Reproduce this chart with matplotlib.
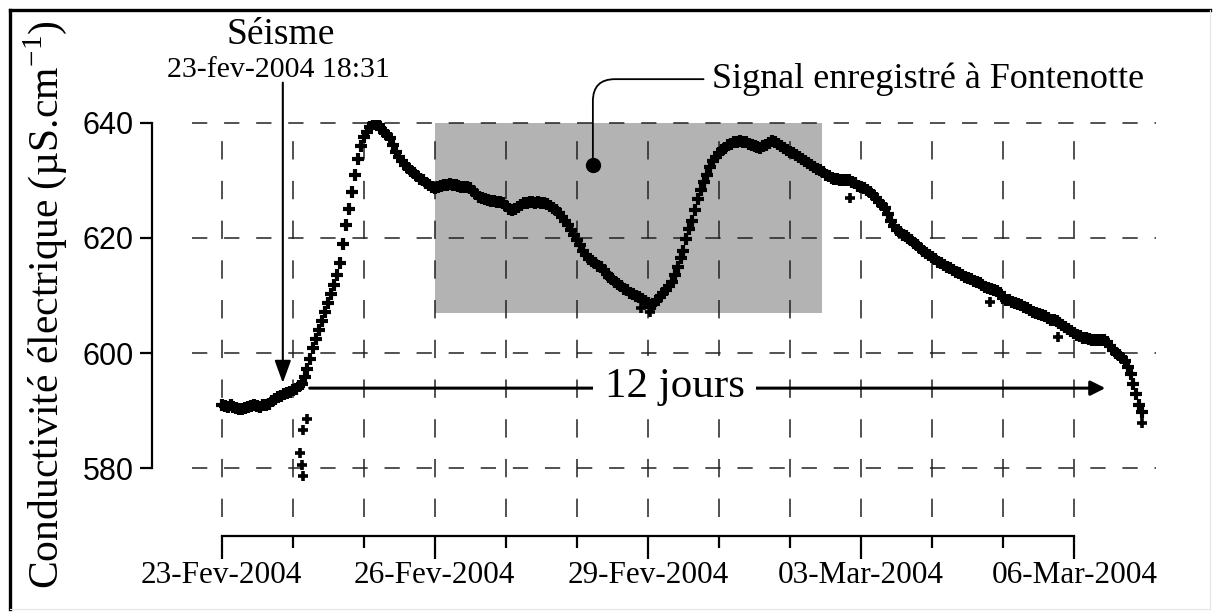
import pandas as pd
import matplotlib.pyplot as plt
import matplotlib.dates as mdates
from matplotlib.lines import Line2D
from matplotlib.patches import Rectangle

plt.rcParams['font.family'] = ['Liberation Serif', 'DejaVu Serif']
plt.rcParams['mathtext.fontset'] = 'custom'
plt.rcParams['mathtext.rm'] = 'Liberation Serif'

# -------------------------------------------------
# Données (une valeur par heure, à partir du 23-Fev-2004 00:00)
# -------------------------------------------------

start = '2004-02-23 00:00'

conductivity = [
    # 23-Fev
    590.9, 590.8, 590.7, 590.9, 590.6, 590.5, 590.3, 590.2, 590.5, 590.7, 590.8, 590.9,
    590.8, 590.7, 590.9, 591.0, 591.2, 591.6, 592.0, 592.3, 592.6, 592.9, 593.1, 593.3,
    # 24-Fev
    593.5, 593.8, 594.2, 594.6, 595.8, 597.3, 599.0, 600.8, 602.5, 604.0, 605.6, 607.2,
    608.7, 610.2, 611.8, 613.6, 615.6, 619.0, 622.3, 625.0, 628.0, 631.0, 633.8, 636.0,
    # 25-Fev
    637.5, 638.4, 639.2, 639.8, 640.0, 639.6, 639.0, 638.4, 637.9, 637.3, 636.2, 635.0,
    634.0, 633.3, 632.7, 632.1, 631.7, 631.3, 630.8, 630.3, 630.0, 629.6, 629.2, 628.9,
    # 26-Fev
    628.7, 628.9, 629.1, 629.2, 629.2, 629.3, 629.2, 629.2, 629.0, 628.9, 628.8, 628.9,
    628.7, 628.2, 627.6, 627.1, 627.0, 626.8, 626.6, 626.5, 626.4, 626.3, 626.2, 626.1,
    # 27-Fev
    625.5, 625.0, 624.9, 625.1, 625.4, 625.8, 626.0, 626.1, 626.2, 626.2, 626.1, 626.2,
    626.1, 626.0, 625.9, 625.6, 625.2, 624.9, 624.3, 623.7, 623.0, 622.3, 621.4, 620.5,
    # 28-Fev
    619.7, 618.8, 617.8, 617.0, 616.4, 616.0, 615.6, 615.2, 614.9, 614.4, 613.8, 613.2,
    612.8, 612.4, 612.0, 611.6, 611.2, 610.9, 610.5, 610.2, 609.9, 609.7, 609.4, 609.0,
    # 29-Fev
    608.7, 608.4, 608.6, 609.2, 609.8, 610.4, 611.0, 611.7, 612.4, 613.5, 615.0, 616.5,
    617.8, 619.8, 621.6, 623.0, 624.9, 626.7, 628.4, 629.8, 631.0, 632.3, 633.3, 634.0,
    # 01-Mar
    634.8, 635.3, 635.7, 636.1, 636.4, 636.6, 636.7, 636.8, 636.7, 636.6, 636.4, 636.2,
    636.0, 635.8, 635.7, 635.9, 636.2, 636.5, 636.8, 636.7, 636.4, 636.0, 635.7, 635.3,
    # 02-Mar
    635.0, 634.7, 634.4, 634.0, 633.7, 633.4, 633.1, 632.7, 632.3, 632.0, 631.8, 631.4,
    631.0, 630.7, 630.5, 630.3, 630.2, 630.1, 630.1, 630.0, 630.0, 629.8, 629.5, 629.1,
    # 03-Mar
    628.8, 628.6, 628.4, 628.0, 627.5, 627.0, 626.3, 625.7, 625.2, 624.2, 623.0, 622.0,
    621.3, 621.0, 620.6, 620.3, 620.0, 619.6, 619.2, 618.7, 618.2, 617.8, 617.4, 617.0,
    # 04-Mar
    616.7, 616.3, 615.9, 615.6, 615.3, 615.0, 614.7, 614.4, 614.1, 613.9, 613.6, 613.3,
    613.0, 612.8, 612.5, 612.3, 612.1, 611.8, 611.5, 611.3, 611.1, 610.9, 610.7, 610.4,
    # 05-Mar
    609.6, 609.3, 609.2, 608.9, 608.7, 608.5, 608.3, 608.0, 607.8, 607.5, 607.2, 607.0,
    606.8, 606.6, 606.4, 606.1, 605.8, 605.7, 605.5, 605.2, 604.9, 604.6, 604.2, 603.9,
    # 06-Mar
    603.5, 603.2, 603.0, 602.7, 602.6, 602.4, 602.3, 602.2, 602.3, 602.3, 602.2, 601.9,
    601.2, 600.6, 600.0, 599.6, 599.2, 598.6, 597.6, 596.4, 594.6, 592.8, 591.0, 589.8,
]

# points isolés
outlier_times = ['2004-02-24 04:48', '2004-02-24 03:36', '2004-02-24 02:24',
                 '2004-02-24 03:07', '2004-02-24 03:22', '2004-02-28 21:36',
                 '2004-02-29 00:43', '2004-03-02 20:24', '2004-03-04 19:40',
                 '2004-03-05 18:29', '2004-03-06 23:02']
outlier_values = [588.6, 586.7, 582.7, 580.6, 578.7, 607.8,
                  607.1, 627.0, 608.9, 602.8, 587.8]

tick_dates = ['2004-02-23', '2004-02-26', '2004-02-29', '2004-03-03', '2004-03-06']
tick_labels = ['23-Fev-2004', '26-Fev-2004', '29-Fev-2004', '03-Mar-2004', '06-Mar-2004']
y_ticks = [580, 600, 620, 640]

# zone grise "Signal enregistré à Fontenotte"
box_start = '2004-02-26 00:00'
box_end = '2004-03-02 10:48'
box_low = 607
box_high = 640

seism_time = '2004-02-23 20:40'
jours_start = '2004-02-24 05:45'
jours_end = '2004-03-06 10:30'
dot_time = '2004-02-28 05:24'
dot_value = 632.7

# -------------------------------------------------

times = pd.date_range(start, periods=len(conductivity), freq='h')
days = pd.date_range(tick_dates[0], tick_dates[-1], freq='D')


def num(t):
    return mdates.date2num(pd.Timestamp(t).to_pydatetime())


fig = plt.figure(figsize=(12.13, 6.12), dpi=100)
ax = fig.add_axes([0.1583, 0.1552, 0.7947, 0.6487])

ax.add_patch(Rectangle((num(box_start), box_low), num(box_end) - num(box_start),
                       box_high - box_low, facecolor='#b3b3b3', edgecolor='none', zorder=0.2))

ax.plot(times.to_pydatetime(), conductivity, linestyle='none', marker='+',
        markersize=8.5, markeredgewidth=3, color='black', zorder=3)
ax.plot(pd.to_datetime(outlier_times).to_pydatetime(), outlier_values, linestyle='none',
        marker='+', markersize=7, markeredgewidth=2.6, color='black', zorder=3)

ax.set_xlim(num('2004-02-22 14:00'), num('2004-03-07 03:36'))
ax.set_ylim(571.5, 640.5)

# -------------------------------------------------
# axes et grille
# -------------------------------------------------

ax.set_xticks([num(t) for t in tick_dates], labels=tick_labels)
ax.set_xticks([num(t) for t in days], minor=True)
ax.set_yticks(y_ticks)

for side in ['top', 'right']:
    ax.spines[side].set_visible(False)
ax.spines['left'].set_position(('outward', 29))
ax.spines['left'].set_bounds(580, 640)
ax.spines['bottom'].set_position(('outward', 14))
ax.spines['bottom'].set_bounds(num(tick_dates[0]), num(tick_dates[-1]))
ax.spines['left'].set_linewidth(1.6)
ax.spines['bottom'].set_linewidth(1.6)

ax.tick_params(axis='x', which='major', length=16.5, width=1.6, labelsize=22.5, pad=1)
ax.tick_params(axis='x', which='minor', length=8.5, width=1.6)
ax.tick_params(axis='y', length=9, width=1.6, labelsize=22, pad=4)
for lbl in ax.get_yticklabels():
    lbl.set_fontfamily('Liberation Sans')

ax.set_axisbelow(True)
ax.grid(True, axis='x', which='both', color='#222222', linewidth=1.1, linestyle=(0, (12, 14)))
ax.grid(True, axis='y', which='major', color='#222222', linewidth=1.1, linestyle=(0, (10, 11)))

ax.set_ylabel('Conductivité électrique (µS.cm$^{\\mathregular{-1}}$)', fontsize=30)
ax.yaxis.set_label_coords(-0.128, 0.534)

# -------------------------------------------------
# annotations
# -------------------------------------------------

ax.text(num('2004-02-23 20:00'), 655.3, 'Séisme', fontsize=27,
        ha='center', va='center', clip_on=False)
ax.text(num('2004-02-23 19:00'), 649.2, '23-fev-2004 18:31', fontsize=21.5,
        ha='center', va='center', clip_on=False)
ax.annotate('', xy=(num(seism_time), 594.8), xytext=(num(seism_time), 647.0),
            arrowprops=dict(arrowstyle='-|>,head_length=0.55,head_width=0.2', lw=1.5,
                            color='black', mutation_scale=25, shrinkA=0, shrinkB=0),
            annotation_clip=False, zorder=4)

ax.annotate('', xy=(num(jours_end), 593.9), xytext=(num(jours_start), 593.9),
            arrowprops=dict(arrowstyle='-|>', lw=2.2, color='black', mutation_scale=22,
                            shrinkA=0, shrinkB=0), zorder=4)
ax.text(num('2004-02-29 09:00'), 594.2, '12 jours', fontsize=31, ha='center', va='center',
        bbox=dict(facecolor='white', edgecolor='none', pad=8), zorder=5)

ax.plot(num(dot_time), dot_value, marker='o', markersize=10, color='black', zorder=4)
ax.annotate('Signal enregistré à Fontenotte', xy=(num(dot_time), dot_value),
            xytext=(num('2004-02-29 21:36'), 647.6), fontsize=26, ha='left', va='center',
            arrowprops=dict(arrowstyle='-', lw=1.3, color='black',
                            connectionstyle='angle,angleA=0,angleB=90,rad=22',
                            shrinkA=4, shrinkB=0),
            annotation_clip=False, zorder=4)

# cadre de la figure
fig.add_artist(Line2D([0.0082, 0.9975], [0.9837, 0.9837], color='black', lw=2.4))
fig.add_artist(Line2D([0.0082, 0.0082], [0.0049, 0.9837], color='black', lw=2.4))
fig.add_artist(Line2D([0.9975, 0.9975], [0.0049, 0.9837], color='#e6e6e6', lw=0.8))
fig.add_artist(Line2D([0.0082, 0.9975], [0.0049, 0.0049], color='#e6e6e6', lw=0.8))

fig.savefig('out.png', dpi=100)
